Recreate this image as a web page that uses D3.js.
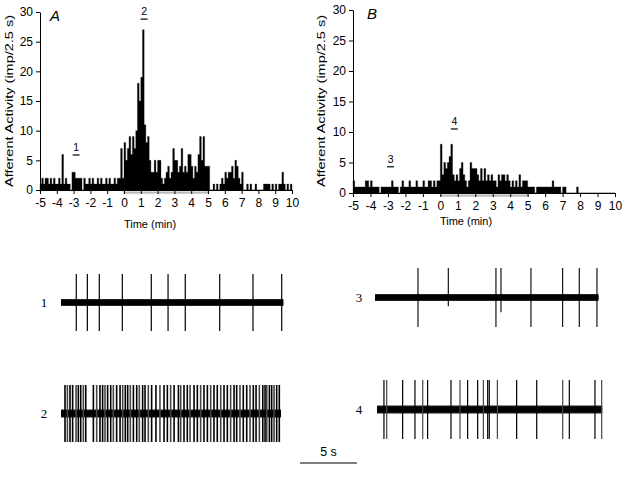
<!DOCTYPE html>
<html lang="en">
<head>
    <meta charset="UTF-8">
    <title>Afferent activity</title>
    <script src="https://d3js.org/d3.v7.min.js"></script>
    <style>
        body { margin: 0; background: #fff; }
    </style>
</head>
<body>
<svg id="fig" width="623" height="477" font-family="Liberation Sans, Arial, sans-serif"></svg>
<script>

// histogram bins: 0.1 min each, starting at -5 min
var binStart = -5;
var binWidth = 0.1;

var countsA = [
    1,2,1,2,2,1,2,1,2,1,
    1,2,1,6,1,2,1,1,0,3,
    3,2,2,2,2,0,2,1,1,2,
    1,2,1,1,2,1,2,1,1,2,
    1,2,1,1,2,1,2,2,7,2,
    8,5,7,9,6,9,7,10,18,15,
    19,27,11,8,9,5,3,3,5,3,
    5,5,2,1,2,3,4,2,3,7,
    5,5,3,4,7,3,4,3,6,6,
    4,2,4,3,6,9,5,9,4,4,
    4,0,0,1,0,1,0,1,2,1,
    3,2,3,3,4,2,5,4,2,1,
    3,0,0,1,0,1,0,0,1,0,
    0,0,0,1,1,1,1,0,1,0,
    1,0,1,1,3,1,0,1,0,1
];

var countsB = [
    2,1,1,1,1,1,1,2,2,1,
    2,1,1,1,1,0,1,1,1,1,
    1,1,2,1,1,1,0,1,2,1,
    1,1,2,1,1,1,2,1,1,1,
    2,1,1,2,2,1,2,1,2,2,
    8,3,5,4,5,6,8,3,2,3,
    2,4,5,3,2,1,2,5,4,4,
    4,3,2,4,2,4,2,3,2,3,
    2,2,1,3,2,3,3,2,3,2,
    1,2,1,2,1,3,1,2,2,2,
    1,1,1,1,0,1,1,1,1,1,
    1,1,1,1,2,1,1,1,1,0,
    1,1,0,0,0,0,0,0,1,0,
    0,0,0,0,0,0,0,0,0,0,
    0,0,0,0,0,0,0,0,0,0
];

var xTicks = [-5,-4,-3,-2,-1,0,1,2,3,4,5,6,7,8,9,10];
var yTicks = [0,5,10,15,20,25,30];

var markersA = [{label: "1", t: -2.85, v: 5.9}, {label: "2", t: 1.2, v: 28.8}];
var markersB = [{label: "3", t: -2.85, v: 4.3}, {label: "4", t: 0.8, v: 10.5}];

// spike times in the recordings (s)
var spikes1 = [1.34, 2.31, 3.36, 5.38, 7.92, 9.39, 10.90, 13.92, 16.84, 19.36];
var spikes2 = [0.35, 0.56, 0.79, 1.02, 1.32, 1.52, 1.73, 1.96, 2.17, 2.84, 3.13, 3.42,
    3.65, 3.86, 4.09, 4.36, 4.59, 4.88, 5.18, 5.41, 5.64, 5.85, 6.08, 6.35, 6.64,
    6.87, 7.16, 7.37, 7.66, 7.95, 8.33, 8.68, 9.04, 9.33, 9.62, 9.92, 10.30, 10.50,
    10.79, 11.08, 11.32, 11.67, 11.96, 12.25, 12.54, 12.84, 13.13, 13.42, 13.71,
    14.01, 14.30, 14.59, 14.88, 15.18, 15.41, 15.70, 15.99, 16.29, 16.58, 16.87,
    17.11, 17.40, 17.70, 17.90, 18.05, 18.28, 18.48, 18.69, 18.92, 19.15];
var spikes3 = [3.77, 6.43, 10.61, 11.05, 13.68, 16.46, 17.92, 19.47];
var spikes3Down = [1, 0.3, 1, 0.5, 1, 1, 1, 1];
var spikes4 = [0.61, 0.85, 2.25, 3.33, 4.01, 4.44, 6.49, 7.28, 7.95, 8.83, 9.33,
    9.71, 9.85, 10.56, 12.25, 14.01, 16.29, 16.87, 19.12, 19.71];

var svg = d3.select("#fig");
var plain = function(d) { return String(d); };

function histogram(opts) {
    var x = d3.scaleLinear().domain([-5, 10]).range(opts.xr);
    var y = d3.scaleLinear().domain([0, 30]).range(opts.yr);
    var g = svg.append("g");

    var pts = opts.counts.map(function(d, i) { return {t: binStart + i * binWidth, v: d}; });
    pts.push({t: binStart + opts.counts.length * binWidth, v: opts.counts[opts.counts.length - 1]});

    var area = d3.area()
        .curve(d3.curveStepAfter)
        .x(function(d) { return x(d.t); })
        .y0(y(0))
        .y1(function(d) { return y(d.v); });

    g.append("path")
        .datum(pts)
        .attr("d", area)
        .attr("fill", "#000")
        .attr("stroke", "#000")
        .attr("stroke-width", 0.3);

    // stimulus period
    g.append("rect")
        .attr("x", x(0)).attr("width", x(5) - x(0))
        .attr("y", y(0) + 0.5).attr("height", 2.5)
        .attr("fill", "#ddd").attr("stroke", "#888").attr("stroke-width", 0.8);

    var xAxis = g.append("g")
        .attr("transform", "translate(0," + y(0) + ")")
        .call(d3.axisBottom(x).tickValues(xTicks).tickFormat(plain).tickSize(4).tickSizeOuter(0).tickPadding(4));
    var yAxis = g.append("g")
        .attr("transform", "translate(" + opts.xr[0] + ",0)")
        .call(d3.axisLeft(y).tickValues(yTicks).tickFormat(plain).tickSize(4).tickSizeOuter(0).tickPadding(3));
    [xAxis, yAxis].forEach(function(a) {
        a.attr("font-family", null).attr("font-size", null);
        a.selectAll("text").attr("font-size", 12).attr("fill", "#000");
        a.selectAll("line, path").attr("stroke", "#000").attr("stroke-width", 1);
    });

    g.append("text")
        .attr("x", opts.timeX)
        .attr("y", opts.timeY)
        .attr("text-anchor", "middle")
        .attr("font-size", 11)
        .text("Time (min)");

    g.append("text")
        .attr("transform", "translate(" + opts.labelX + "," + opts.labelY + ") rotate(-90)")
        .attr("text-anchor", "middle")
        .attr("font-size", 11)
        .attr("textLength", 172)
        .attr("lengthAdjust", "spacingAndGlyphs")
        .text("Afferent Activity (imp/2.5 s)");

    g.append("text")
        .attr("x", opts.letterX).attr("y", opts.yr[1] + 9)
        .attr("font-size", 15)
        .attr("font-style", "italic")
        .text(opts.letter);

    opts.markers.forEach(function(m) {
        g.append("line")
            .attr("x1", x(m.t) - 3.5).attr("x2", x(m.t) + 3.5)
            .attr("y1", y(m.v)).attr("y2", y(m.v))
            .attr("stroke", "#000").attr("stroke-width", 1.2);
        g.append("text")
            .attr("x", x(m.t)).attr("y", y(m.v) - 4)
            .attr("text-anchor", "middle")
            .attr("font-size", 10.5)
            .text(m.label);
    });
}

histogram({counts: countsA, xr: [40, 292], yr: [190, 12], markers: markersA,
    labelX: 13, labelY: 101, letter: "A", letterX: 50, timeX: 150, timeY: 228});
histogram({counts: countsB, xr: [353, 615], yr: [193, 10], markers: markersB,
    labelX: 325, labelY: 101, letter: "B", letterX: 367, timeX: 466, timeY: 225});

// recordings: 5 s = 57 px
var pxPerSec = 57 / 5;

function trace(opts) {
    var x = d3.scaleLinear().domain([0, 1]).range([opts.x0, opts.x0 + pxPerSec]);
    var y = d3.scaleLinear().domain([-1, 1]).range([opts.base + opts.down, opts.base - opts.up]);
    var g = svg.append("g");

    g.append("line")
        .attr("x1", x(0)).attr("x2", x(opts.len))
        .attr("y1", y(0)).attr("y2", y(0))
        .attr("stroke", "#222").attr("stroke-width", opts.band + 2);
    g.append("line")
        .attr("x1", x(0)).attr("x2", x(opts.len))
        .attr("y1", y(0)).attr("y2", y(0))
        .attr("stroke", "#000").attr("stroke-width", opts.band);

    g.selectAll("line.spike")
        .data(opts.spikes)
        .enter()
        .append("line")
        .attr("class", "spike")
        .attr("x1", function(d) { return x(d); })
        .attr("x2", function(d) { return x(d); })
        .attr("y1", y(1))
        .attr("y2", function(d, i) { return y(opts.downFrac ? -opts.downFrac[i] : -1); })
        .attr("stroke", function(d, i) { return opts.grey && i % 3 === 1 ? "#444" : "#000"; })
        .attr("stroke-width", opts.sw);

    g.append("text")
        .attr("x", opts.labelX).attr("y", y(0) + 4.5)
        .attr("text-anchor", "middle")
        .attr("font-family", "Liberation Serif, Times New Roman, serif")
        .attr("font-size", 13)
        .text(opts.label);
}

trace({spikes: spikes1, x0: 61, len: 19.5, base: 299, up: 25, down: 32, band: 5, sw: 1.2, label: "1", labelX: 44});
trace({spikes: spikes2, x0: 61, len: 19.3, base: 409, up: 24, down: 33, band: 6, sw: 1.6, grey: true, label: "2", labelX: 44});
trace({spikes: spikes3, x0: 375, len: 19.6, base: 298, up: 30, down: 29, band: 5, sw: 1.1, downFrac: spikes3Down, label: "3", labelX: 359});
trace({spikes: spikes4, x0: 377, len: 19.75, base: 409, up: 29, down: 30, band: 6, sw: 1.2, grey: true, label: "4", labelX: 359});

// scale bar
var sb = d3.scaleLinear().domain([0, 5]).range([300, 300 + 57]);
svg.append("line")
    .attr("x1", sb(0)).attr("x2", sb(5))
    .attr("y1", 463).attr("y2", 463)
    .attr("stroke", "#000").attr("stroke-width", 1);
svg.append("text")
    .attr("x", sb(2.5)).attr("y", 456)
    .attr("text-anchor", "middle")
    .attr("font-size", 12.5)
    .text("5 s");

</script>
</body>
</html>
